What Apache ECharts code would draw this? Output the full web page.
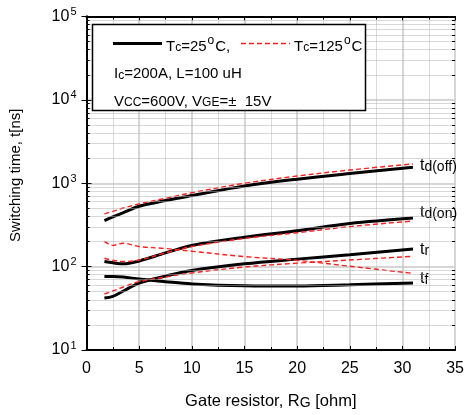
<!DOCTYPE html>
<html>
<head>
<meta charset="utf-8">
<script src="https://cdn.jsdelivr.net/npm/echarts@6/dist/echarts.min.js"></script>
<style>
  html, body { margin: 0; padding: 0; background: #fff; }
  #chart { width: 467px; height: 415px; }
</style>
</head>
<body>
<div id="chart"></div>
<script>
// Gate resistance points (ohm) where switching times are plotted
const gateR = [1.7, 2.5, 3.5, 5, 7.5, 10, 15, 20, 25, 31];

// Switching times in ns, Tc = 25 °C
const tdOff25 = [357, 395, 445, 530, 620, 711, 925, 1120, 1310, 1556];
const tdOn25  = [115, 111, 108, 117, 146, 179, 225, 270, 330, 384];
const tr25    = [42, 44, 51, 63.5, 77, 90, 108, 123, 139, 163];
const tf25    = [76, 76, 75, 71, 66, 62, 59, 58.5, 60.5, 63.7];

// Switching times in ns, Tc = 125 °C
const tdOff125 = [430, 460, 505, 566, 660, 770, 1000, 1220, 1440, 1708];
const tdOn125  = [126, 119, 115, 120, 146, 174, 218, 255, 302, 352];
const tr125    = [47, 51, 57, 66, 75, 84, 99, 110, 120, 133];
const tf125    = [201, 180, 191, 174, 165, 153, 132, 119, 101, 83];

// Axis ranges
const xMin = 0, xMax = 35, xStep = 5;
const yMin = 10, yMax = 100000;

const FONT = 'Liberation Sans, Arial, sans-serif';

function pairs(ys) { return gateR.map((r, i) => [r, ys[i]]); }

// Dotted minor grid lines at 2..9 of every decade, plus small inward ticks on both sides
const minorLevels = [];
for (let d = yMin; d < yMax; d *= 10) {
  for (let k = 2; k <= 9; k++) minorLevels.push(k * d);
}
const minorGrid = minorLevels.map(v => ({ yAxis: v }));
const minorTicks = [];
minorLevels.forEach(v => {
  minorTicks.push([{ coord: [xMin, v] }, { coord: [xMin + 0.3, v] }]);
  minorTicks.push([{ coord: [xMax - 0.3, v] }, { coord: [xMax, v] }]);
});

const curveRich = {
  t: { fontSize: 16, fontFamily: FONT, color: '#000' },
  s: { fontSize: 14, fontFamily: FONT, color: '#000', padding: [3, 0, 0, 0] }
};

function blackSeries(name, ys, sub, dy) {
  return {
    name: name, type: 'line', data: pairs(ys), smooth: 0.35,
    symbol: 'none', lineStyle: { color: '#000', width: 3 },
    endLabel: {
      show: true, formatter: '{t|t}{s|' + sub + '}', rich: curveRich,
      distance: 7, offset: [0, dy]
    },
    z: 3
  };
}
function redSeries(name, ys) {
  return {
    name: name, type: 'line', data: pairs(ys), smooth: 0.35,
    symbol: 'none', lineStyle: { color: '#ff2020', width: 1.4, type: [5, 3] },
    z: 4
  };
}

const series = [
  blackSeries('td(off) 25', tdOff25, 'd(off)', -2),
  blackSeries('td(on) 25', tdOn25, 'd(on)', -5),
  blackSeries('tr 25', tr25, 'r', 1),
  blackSeries('tf 25', tf25, 'f', -4),
  redSeries('td(off) 125', tdOff125),
  redSeries('td(on) 125', tdOn125),
  redSeries('tr 125', tr125),
  redSeries('tf 125', tf125)
];
// Minor gridlines and ticks for the log axis
series.push({
  type: 'line', data: [], silent: true, z: 1,
  markLine: {
    silent: true, symbol: 'none', animation: false,
    label: { show: false },
    lineStyle: { color: '#b0b0b0', width: 1, type: [1, 1] },
    data: minorGrid
  }
});
series.push({
  type: 'line', data: [], silent: true, z: 1,
  markLine: {
    silent: true, symbol: 'none', animation: false,
    label: { show: false },
    lineStyle: { color: '#000', width: 1, type: 'solid' },
    data: minorTicks
  }
});

const textRich = {
  n: { fontSize: 15, fontFamily: FONT, color: '#000' },
  s: { fontSize: 12, fontFamily: FONT, color: '#000', padding: [3, 0, 0, 0] },
  o: { fontSize: 12, fontFamily: FONT, color: '#000', padding: [0, 1, 11, 1] }
};

const option = {
  animation: false,
  backgroundColor: '#fff',
  grid: { left: 86.5, right: 10, top: 16.5, bottom: 65, containLabel: false },
  xAxis: [{
    type: 'value', min: xMin, max: xMax, interval: xStep, position: 'bottom',
    name: '{s|Gate resistor, R}{g|G}{s| [ohm]}', nameLocation: 'middle', nameGap: 43,
    nameTextStyle: {
      fontSize: 16.5, fontFamily: FONT, color: '#000',
      rich: {
        s: { fontSize: 16.5, fontFamily: FONT, color: '#000' },
        g: { fontSize: 14, fontFamily: FONT, color: '#000', padding: [3, 0, 0, 0] }
      }
    },
    axisLine: { lineStyle: { color: '#000', width: 2 } },
    axisTick: { inside: true, length: 4, lineStyle: { color: '#000' } },
    minorTick: { show: true, splitNumber: 2, length: 3, lineStyle: { color: '#000' } },
    axisLabel: { fontSize: 16, fontFamily: FONT, color: '#000', margin: 11 },
    splitLine: { show: true, lineStyle: { color: '#c8c8c8', width: 1.5 } },
    minorSplitLine: { show: true, lineStyle: { color: '#b8b8b8', width: 1, type: [1, 1] } }
  }, {
    type: 'value', min: xMin, max: xMax, interval: xStep, position: 'top',
    axisLine: { lineStyle: { color: '#000', width: 2 } },
    axisTick: { inside: true, length: 4, lineStyle: { color: '#000' } },
    minorTick: { show: true, splitNumber: 2, length: 3, lineStyle: { color: '#000' } },
    axisLabel: { show: false },
    splitLine: { show: false }
  }],
  yAxis: [{
    type: 'log', logBase: 10, min: yMin, max: yMax, position: 'left',
    name: 'Switching time, t[ns]', nameLocation: 'middle', nameGap: 63,
    nameTextStyle: { fontSize: 15, fontFamily: FONT, color: '#000', padding: [0, 0, 0, 16] },
    axisLine: { lineStyle: { color: '#000', width: 2 } },
    axisTick: { inside: true, length: 5, lineStyle: { color: '#000' } },
    axisLabel: {
      margin: 10,
      formatter: v => '{b|10}{e|' + Math.round(Math.log10(v)) + '}',
      rich: {
        b: { fontSize: 16, fontFamily: FONT, color: '#000' },
        e: { fontSize: 11, fontFamily: FONT, color: '#000', padding: [0, 0, 9, 1] }
      }
    },
    splitLine: { show: true, lineStyle: { color: '#c8c8c8', width: 1.5 } }
  }, {
    type: 'log', logBase: 10, min: yMin, max: yMax, position: 'right',
    axisLine: { lineStyle: { color: '#000', width: 2 } },
    axisTick: { inside: true, length: 5, lineStyle: { color: '#000' } },
    axisLabel: { show: false },
    splitLine: { show: false }
  }],
  series: series,
  graphic: [{
    type: 'group', zlevel: 1, z: 100,
    children: [
      { type: 'rect', zlevel: 1, shape: { x: 92.5, y: 24.5, width: 273, height: 86 },
        style: { fill: '#fff', stroke: '#000', lineWidth: 1.5 } },
      { type: 'line', zlevel: 1, shape: { x1: 113, y1: 43.5, x2: 162, y2: 43.5 },
        style: { stroke: '#000', lineWidth: 3 } },
      { type: 'text', zlevel: 1, x: 166, y: 46.5,
        style: { text: '{n|T}{s|c}{n|=25}{o|o}{n|C,}', rich: textRich, verticalAlign: 'middle' } },
      { type: 'line', zlevel: 1, shape: { x1: 241, y1: 43.5, x2: 290, y2: 43.5 },
        style: { stroke: '#ff2020', lineWidth: 1.4, lineDash: [5, 3] } },
      { type: 'text', zlevel: 1, x: 294, y: 46.5,
        style: { text: '{n|T}{s|c}{n|=125}{o|o}{n|C}', rich: textRich, verticalAlign: 'middle' } },
      { type: 'text', zlevel: 1, x: 114, y: 74,
        style: { text: '{n|I}{s|c}{n|=200A, L=100 uH}', rich: textRich, verticalAlign: 'middle' } },
      { type: 'text', zlevel: 1, x: 114, y: 101.5,
        style: { text: '{n|V}{s|CC}{n|=600V, V}{s|GE}{n|=±  15V}', rich: textRich, verticalAlign: 'middle' } }
    ]
  }]
};

const chart = echarts.init(document.getElementById('chart'), null, { renderer: 'canvas' });
chart.setOption(option);
</script>
</body>
</html>
